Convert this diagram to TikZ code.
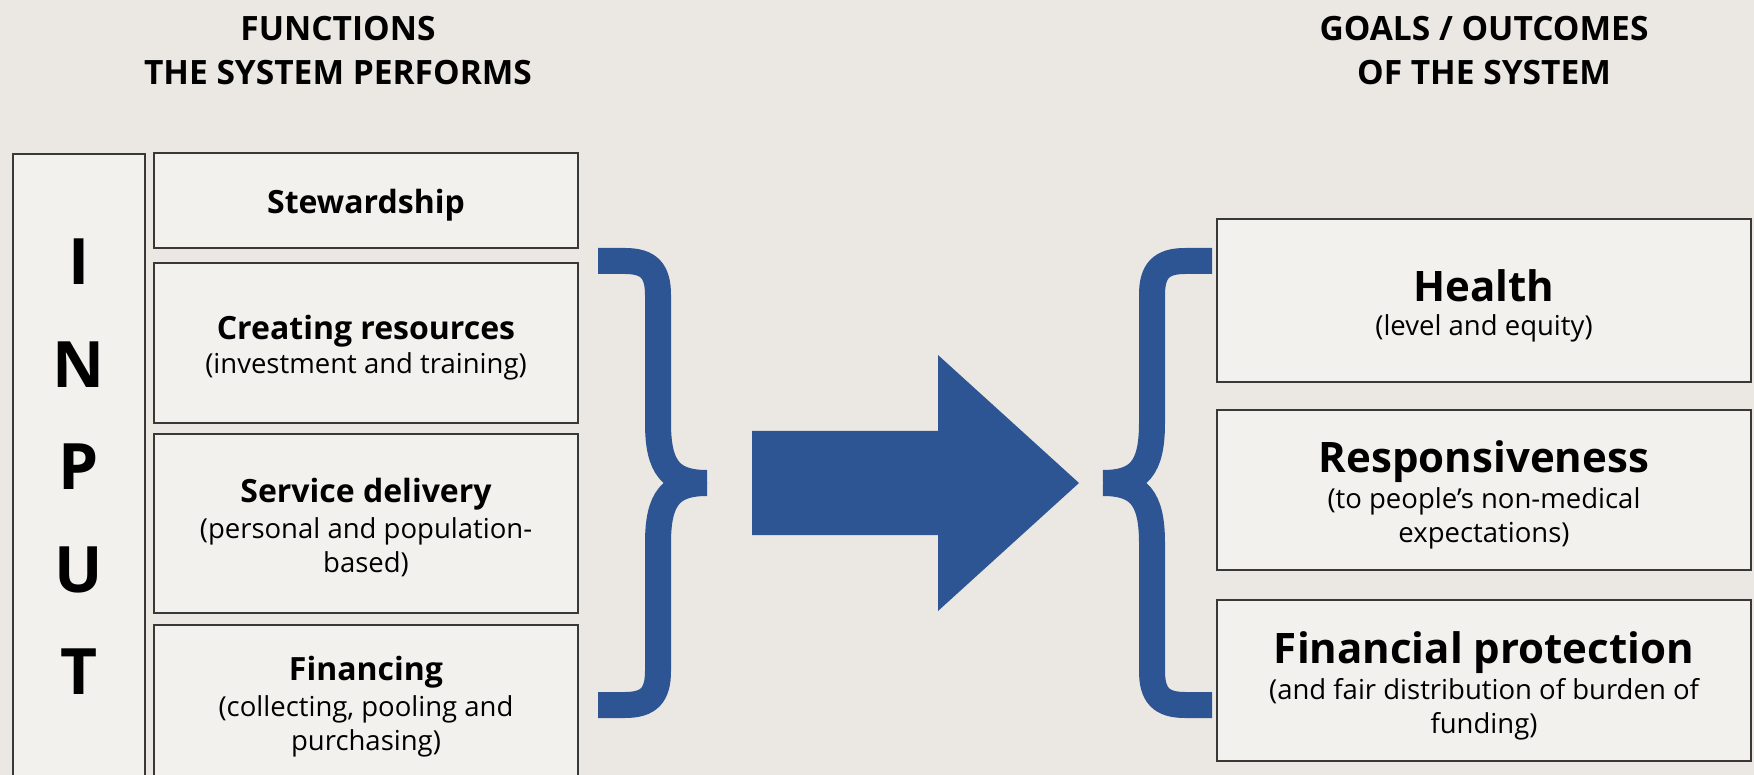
\documentclass[tikz,border=0pt]{standalone}
\usepackage{fontspec}
\setmainfont{Open Sans}
\usetikzlibrary{positioning}
\definecolor{pagebg}{HTML}{EBE8E3}
\definecolor{boxfill}{HTML}{F3F1ED}
\definecolor{boxline}{HTML}{383838}
\definecolor{whoblue}{HTML}{2D5593}
\newcommand{\funchead}[1]{{\bfseries\fontsize{32}{34}\selectfont\rule{0pt}{33pt}#1}}
\newcommand{\goalhead}[1]{{\bfseries\fontsize{42}{34}\selectfont\rule{0pt}{42pt}#1}}
\tikzset{
    func-box/.style = {draw=boxline, fill=boxfill, line width=2pt, rectangle, inner sep=0pt, align=center, minimum width=424pt, font=\fontsize{27.5}{34}\selectfont},
    goal-box/.style = {func-box, minimum width=534pt},
    col-title/.style = {align=center, font=\bfseries\fontsize{33.5}{44}\selectfont},
    big-letter/.style = {inner sep=0pt, font=\bfseries\fontsize{64}{64}\selectfont},
    curly/.pic = {
        \draw[whoblue, line width=26pt] (-109,-222) -- (-82,-222) .. controls (-58,-222) and (-49,-212) .. (-49,-188) -- (-49,-60) .. controls (-49,-15) and (-36,0) .. (0,0);
        \draw[whoblue, line width=26pt] (-109,222) -- (-82,222) .. controls (-58,222) and (-49,212) .. (-49,188) -- (-49,60) .. controls (-49,15) and (-36,0) .. (0,0);
    },
}

\begin{document}
\begin{tikzpicture}[x=1pt, y=-1pt]
\path[use as bounding box, fill=pagebg] (0,0) rectangle (1754,775);

% column titles
\node[col-title] (func-title) at (338,51) {FUNCTIONS\\THE SYSTEM PERFORMS};
\node[col-title] (goal-title) at (1484,51) {GOALS / OUTCOMES\\OF THE SYSTEM};

% input column
\node[draw=boxline, fill=boxfill, line width=2pt, minimum width=132pt, minimum height=625pt, anchor=north] (input) at (79,153) {};
\foreach \ch [count=\i] in {I,N,P,U,T}
    \node[big-letter] (in-\i) at (79,{262+(\i-1)*102.5}) {\ch};

% functions
\node[func-box, minimum height=95pt] (steward) at (366,200.5) {\funchead{Stewardship}};
\node[func-box, minimum height=160pt] (resources) at (366,343) {\funchead{Creating resources}\\(investment and training)};
\node[func-box, minimum height=179pt] (delivery) at (366,523.5) {\funchead{Service delivery}\\[2pt](personal and population-\\based)};
\node[func-box, minimum height=154pt, anchor=north] (financing) at (366,624) {\funchead{Financing}\\[2pt](collecting, pooling and\\purchasing)};

% braces and arrow
\pic at (707,483) {curly};
\fill[whoblue] (752,431) -- (938,431) -- (938,355) -- (1079,483) -- (938,611) -- (938,535) -- (752,535) -- cycle;
\pic[xscale=-1] at (1103,483) {curly};

% goals
\node[goal-box, minimum height=163pt] (health) at (1484,300.5) {\goalhead{Health}\\(level and equity)};
\node[goal-box, minimum height=160pt] (respons) at (1484,490) {\goalhead{Responsiveness}\\[2pt](to people’s non-medical\\expectations)};
\node[goal-box, minimum height=161pt] (protect) at (1484,680.5) {\goalhead{Financial protection}\\[2pt](and fair distribution of burden of\\funding)};
\end{tikzpicture}
\end{document}
